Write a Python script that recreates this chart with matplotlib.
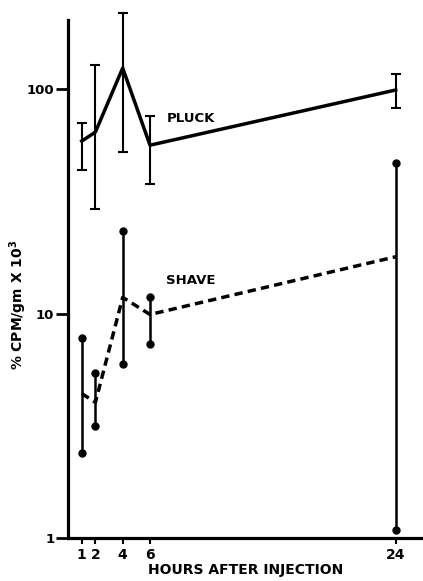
import numpy as np
import matplotlib
matplotlib.use('Agg')
import matplotlib.pyplot as plt

# data
hours = [1, 2, 4, 6, 24]
hour_labels = ['1', '2', '4', '6', '24']

pluck_mean = [58.6, 64.3, 124, 56.2, 99]
pluck_low = [43.6, 29.2, 52.4, 37.8, 82.3]
pluck_high = [70.7, 128, 218, 75.8, 116.6]

shave_mean = [4.4, 4.02, 11.8, 9.9, 17.9]
shave_low = [2.4, 3.14, 5.98, 7.28, 1.09]
shave_high = [7.74, 5.41, 23.2, 11.8, 46.6]

y_ticks = [1, 10, 100]
y_tick_labels = ['1', '10', '100']

plt.rcParams['font.family'] = ['DejaVu Sans']
plt.rcParams['font.weight'] = 'bold'

fig = plt.figure(figsize=(4.23, 5.81), dpi=100)
ax = fig.add_axes([0.161, 0.074, 0.839, 0.8916])

# pluck: solid line, capped error bars
p_err = [np.array(pluck_mean) - np.array(pluck_low),
         np.array(pluck_high) - np.array(pluck_mean)]
ax.errorbar(hours, pluck_mean, yerr=p_err, fmt='none', ecolor='black',
            elinewidth=1.5, capsize=3.5, capthick=1.5, clip_on=False)
ax.plot(hours, pluck_mean, color='black', lw=2.5, clip_on=False)

# shave: dashed line, error bars ending in dots
s_err = [np.array(shave_mean) - np.array(shave_low),
         np.array(shave_high) - np.array(shave_mean)]
ax.errorbar(hours, shave_mean, yerr=s_err, fmt='none', ecolor='black',
            elinewidth=1.8, capsize=0, clip_on=False)
ax.plot(hours, shave_low, 'o', color='black', ms=5, clip_on=False)
ax.plot(hours, shave_high, 'o', color='black', ms=5, clip_on=False)
ax.plot(hours, shave_mean, color='black', lw=2.5, dashes=(2.4, 1.5),
        clip_on=False)

ax.text(7.2, 74, 'PLUCK', fontsize=9.5, fontweight='bold', va='center')
ax.text(7.2, 14.0, 'SHAVE', fontsize=9.5, fontweight='bold', va='center')

ax.set_yscale('log')
ax.set_ylim(1, 203)
ax.set_xlim(0, 26)
ax.set_yticks(y_ticks)
ax.set_yticklabels(y_tick_labels, fontsize=9.5, fontweight='bold')
ax.yaxis.set_minor_locator(matplotlib.ticker.NullLocator())
ax.set_xticks(hours)
ax.set_xticklabels(hour_labels, fontsize=10, fontweight='bold')

ax.tick_params(axis='y', length=9, width=2, pad=1)
ax.tick_params(axis='x', length=4, width=1.5, pad=3)

for side in ['top', 'right']:
    ax.spines[side].set_visible(False)
for side in ['left', 'bottom']:
    ax.spines[side].set_linewidth(2.3)

ax.set_xlabel('HOURS AFTER INJECTION', fontsize=10, fontweight='bold',
              labelpad=1)
ax.set_ylabel('% CPM/gm X 10$^3$', fontsize=10, fontweight='bold',
              labelpad=10)
ax.yaxis.set_label_coords(-0.11, 0.45)

fig.savefig('out.png', dpi=100)
